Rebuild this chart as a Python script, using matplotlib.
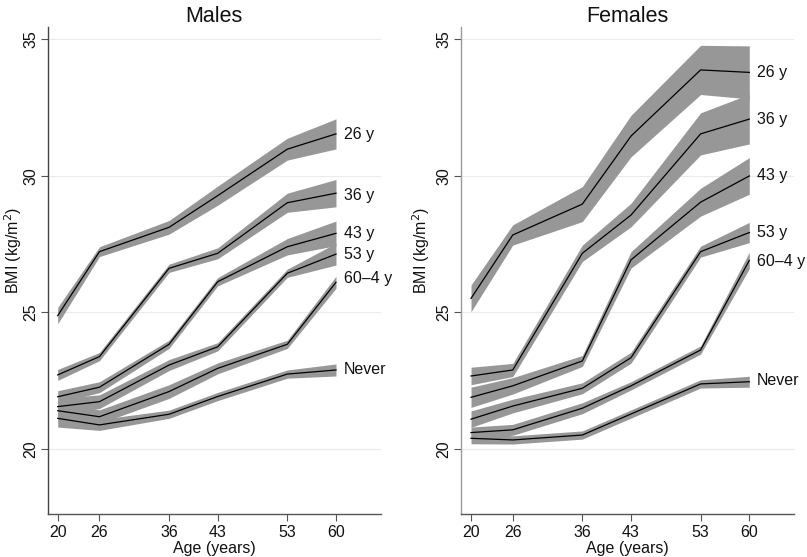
import matplotlib
matplotlib.use("Agg")
import matplotlib.pyplot as plt
import numpy as np

plt.rcParams['font.family'] = ['Liberation Sans', 'DejaVu Sans']

ages = [20, 26, 36, 43, 53, 60]
groups = ["26 y", "36 y", "43 y", "53 y", "60\u20134 y", "Never"]

# Males: mean BMI per group
m_26 = [24.88, 27.22, 28.11, 29.27, 30.97, 31.53]
m_36 = [22.71, 23.38, 26.61, 27.16, 29.01, 29.36]
m_43 = [21.91, 22.26, 23.83, 26.12, 27.40, 27.89]
m_53 = [21.55, 21.73, 23.07, 23.74, 26.43, 27.13]
m_604 = [21.40, 21.18, 22.10, 22.95, 23.83, 26.10]
m_never = [21.12, 20.88, 21.27, 21.92, 22.74, 22.89]
# Males: CI half-widths
m_26_ci = [0.30, 0.18, 0.25, 0.35, 0.40, 0.55]
m_36_ci = [0.20, 0.15, 0.15, 0.20, 0.35, 0.50]
m_43_ci = [0.22, 0.20, 0.15, 0.15, 0.30, 0.45]
m_53_ci = [0.30, 0.25, 0.20, 0.15, 0.15, 0.40]
m_604_ci = [0.30, 0.25, 0.25, 0.20, 0.15, 0.22]
m_never_ci = [0.32, 0.20, 0.15, 0.15, 0.15, 0.22]

# Females: mean BMI per group
f_26 = [25.51, 27.83, 28.96, 31.45, 33.87, 33.78]
f_36 = [22.67, 22.89, 27.16, 28.56, 31.53, 32.07]
f_43 = [21.89, 22.31, 23.22, 26.92, 29.03, 29.99]
f_53 = [21.09, 21.57, 22.22, 23.34, 27.22, 27.92]
f_604 = [20.60, 20.70, 21.49, 22.31, 23.62, 26.90]
f_never = [20.39, 20.33, 20.51, 21.28, 22.38, 22.46]
# Females: CI half-widths
f_26_ci = [0.49, 0.37, 0.64, 0.76, 0.90, 0.97]
f_36_ci = [0.32, 0.24, 0.30, 0.43, 0.77, 0.91]
f_43_ci = [0.37, 0.30, 0.20, 0.30, 0.51, 0.67]
f_53_ci = [0.30, 0.25, 0.20, 0.20, 0.20, 0.37]
f_604_ci = [0.20, 0.20, 0.20, 0.15, 0.15, 0.30]
f_never_ci = [0.20, 0.15, 0.15, 0.15, 0.15, 0.20]

m_label_y = [31.49, 29.26, 27.87, 27.10, 26.25, 22.89]
f_label_y = [33.78, 32.07, 29.99, 27.91, 26.85, 22.50]

males = [m_26, m_36, m_43, m_53, m_604, m_never]
males_ci = [m_26_ci, m_36_ci, m_43_ci, m_53_ci, m_604_ci, m_never_ci]
females = [f_26, f_36, f_43, f_53, f_604, f_never]
females_ci = [f_26_ci, f_36_ci, f_43_ci, f_53_ci, f_604_ci, f_never_ci]

W, H = 807, 557
fig = plt.figure(figsize=(W / 100, H / 100), dpi=100)

panels = [
    (47.7, "Males", males, males_ci, m_label_y, "#444444", -0.072),
    (461.0, "Females", females, females_ci, f_label_y, "#9a9a9a", -0.087),
]

band_col = "#979797"
for left_px, title, series, cis, label_y, spine_col, ylab_x in panels:
    ax = fig.add_axes([left_px / W, 43 / H, 333.3 / W, 486.7 / H])
    ax.set_xlim(18.56, 66.47)
    ax.set_ylim(17.62, 35.43)
    for yv in [20, 25, 30, 35]:
        ax.axhline(yv, color="#ebebeb", lw=0.8, zorder=0)
    for s, c in zip(series, cis):
        s = np.array(s)
        c = np.array(c)
        ax.fill_between(ages, s - c, s + c, color=band_col, lw=0, zorder=1)
    for s in series:
        ax.plot(ages, s, color="black", lw=0.9, zorder=3)
    for name, ly in zip(groups, label_y):
        ax.text(61.1, ly, name, fontsize=11.5, va="center", ha="left", color="#111111")
    ax.set_xticks(ages)
    ax.set_xticklabels([str(a) for a in ages])
    ax.set_yticks([20, 25, 30, 35])
    ax.set_yticklabels(["20", "25", "30", "35"], rotation=90, va="center")
    ax.tick_params(axis="both", labelsize=11.5, length=5, width=0.8, color="#555555", labelcolor="#111111", pad=3)
    ax.tick_params(axis="y", pad=2)
    for sp in ["top", "right"]:
        ax.spines[sp].set_visible(False)
    ax.spines["left"].set_color(spine_col)
    ax.spines["bottom"].set_color("#555555")
    ax.spines["left"].set_linewidth(1.0)
    ax.spines["bottom"].set_linewidth(1.0)
    ax.set_xlabel("Age (years)", fontsize=11.5, labelpad=1, color="#111111")
    ax.set_ylabel("BMI (kg/m$^2$)", fontsize=11.5, color="#111111")
    ax.yaxis.set_label_coords(ylab_x, 0.542)
    ax.set_title(title, fontsize=15.5, pad=2, color="#111111")

fig.savefig("out.png", dpi=100, facecolor="white")
